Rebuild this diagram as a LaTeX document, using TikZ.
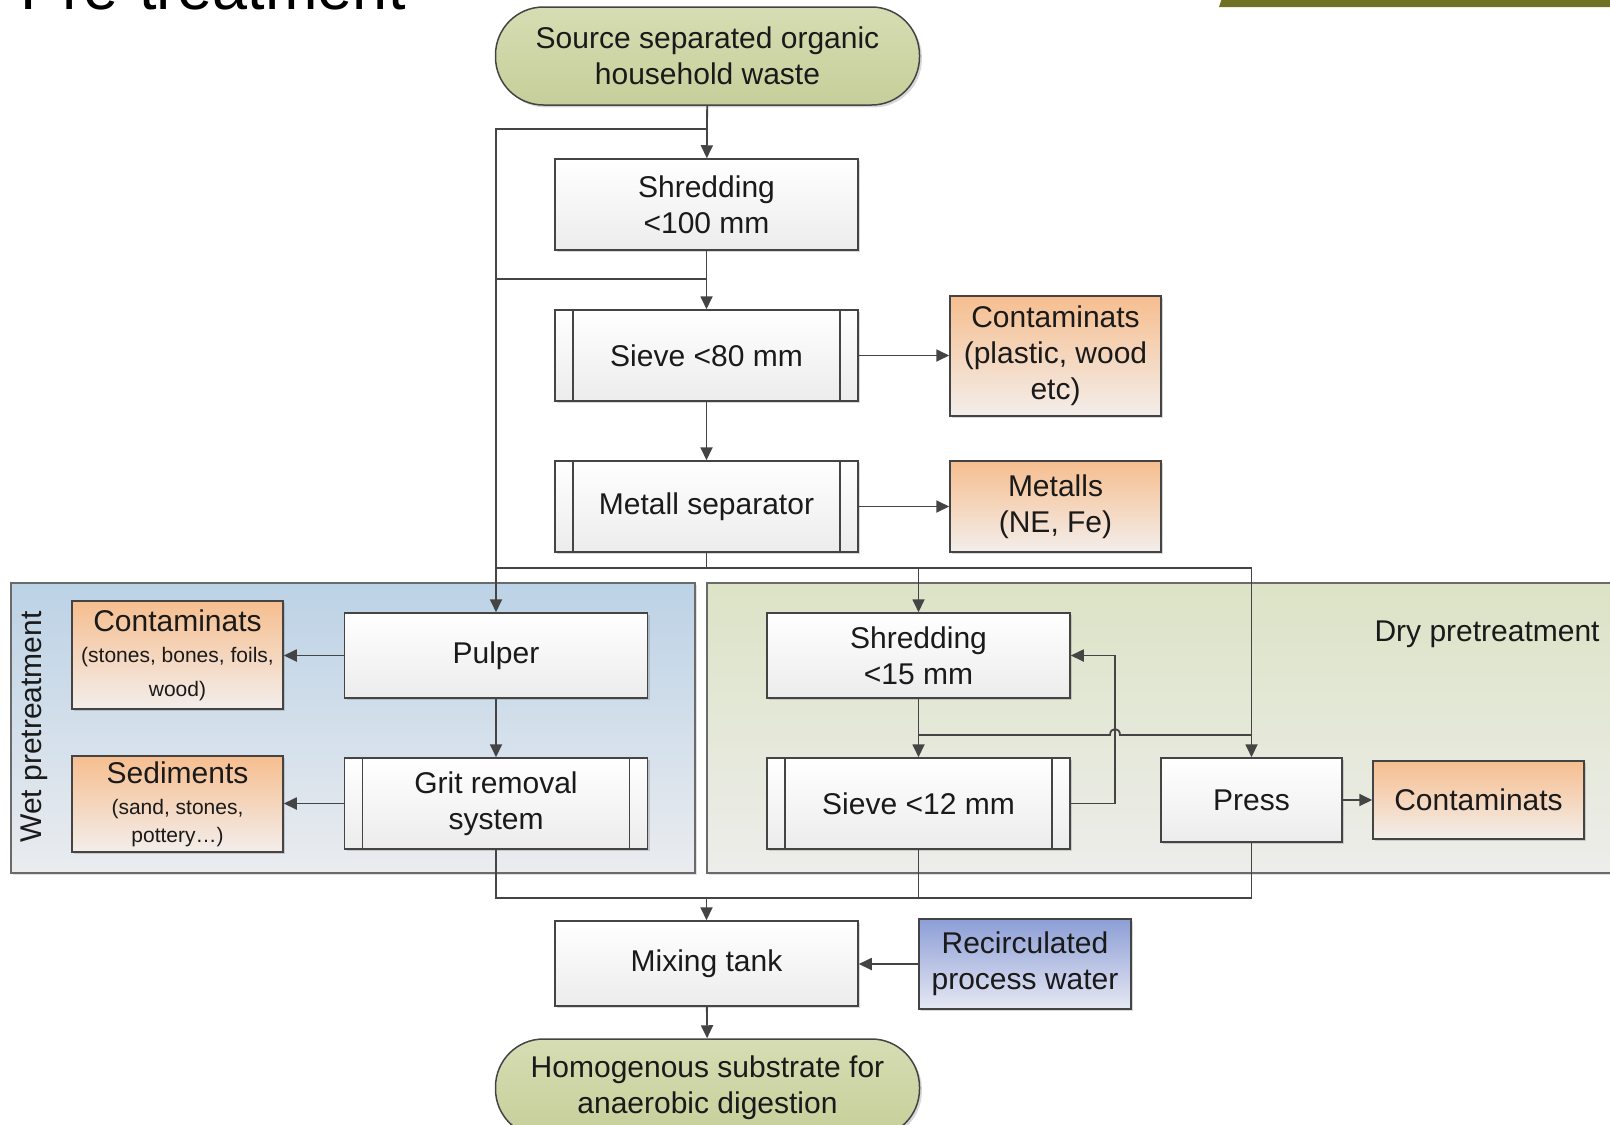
\documentclass[tikz,border=0pt]{standalone}
\usepackage{fontspec}
\setmainfont{Liberation Sans}
\usetikzlibrary{arrows.meta,shadows,calc}
\definecolor{ln}{HTML}{444444}
\definecolor{txt}{HTML}{1A1A1A}
\definecolor{procB}{HTML}{ECECEC}
\definecolor{termT}{HTML}{D6DDB3}
\definecolor{termB}{HTML}{C6CF9A}
\definecolor{oraT}{HTML}{F6BE8F}
\definecolor{oraB}{HTML}{F3EEEB}
\definecolor{bluT}{HTML}{8C9ED6}
\definecolor{bluB}{HTML}{E6E8F3}
\definecolor{wetT}{HTML}{BCD2E6}
\definecolor{wetB}{HTML}{EAECEF}
\definecolor{dryT}{HTML}{DCE3C6}
\definecolor{dryB}{HTML}{EDEDEA}
\definecolor{panelL}{HTML}{6A6A6A}
\definecolor{barc}{HTML}{6F7022}
\tikzset{
  x=0.5pt, y=-0.5pt,
  conn/.style={draw=ln, line width=0.9pt},
  arr/.style={conn, -{Triangle[length=6.5pt,width=6pt]}},
  base/.style={draw=ln, line width=0.75pt, align=center, text=txt,
    font=\fontsize{15}{18}\selectfont, inner sep=2pt,
    drop shadow={shadow xshift=1.2pt, shadow yshift=-1.2pt, opacity=0.25, fill=black!60}},
  proc/.style={base, top color=white, bottom color=procB, minimum width=151.5pt, minimum height=45.5pt},
  dbl/.style={proc, path picture={
    \draw[ln, line width=0.75pt]
      ([xshift=9pt]path picture bounding box.north west) -- ([xshift=9pt]path picture bounding box.south west)
      ([xshift=-9pt]path picture bounding box.north east) -- ([xshift=-9pt]path picture bounding box.south east);}},
  term/.style={base, top color=termT, bottom color=termB, rounded corners=24pt, minimum width=212pt, minimum height=49pt},
  ora/.style={base, top color=oraT, bottom color=oraB, minimum width=105.5pt},
  blu/.style={base, top color=bluT, bottom color=bluB, minimum width=106pt, minimum height=45pt},
  panel/.style={draw=panelL, line width=0.6pt,
    drop shadow={shadow xshift=1pt, shadow yshift=-1pt, opacity=0.2, fill=black!60}},
  lbl/.style={text=txt, font=\fontsize{15}{18}\selectfont, inner sep=0pt},
}
\newcommand{\sm}[1]{{\fontsize{10.5}{13}\selectfont #1}}
\begin{document}
\begin{tikzpicture}
\useasboundingbox (0,0) rectangle (1610,1124);
\fill[white] (0,0) rectangle (1610,1124);

% title (cut off at top) and header bar
\node[anchor=base west, inner sep=0pt, text=black, font=\fontsize{31.5}{36}\selectfont] (title) at (20,10) {Pre-treatment};
\fill[barc] (1222,-2) -- (1612,-2) -- (1612,7) -- (1219,7) -- cycle;

% panels
\node[panel, top color=wetT, bottom color=wetB, minimum width=342pt, minimum height=145pt] (wet) at (353,728) {};
\node[panel, top color=dryT, bottom color=dryB, minimum width=456.5pt, minimum height=145pt] (dry) at (1163.5,728) {};
\node[lbl, rotate=90] (wetlbl) at (34,727) {Wet pretreatment};
\node[lbl, anchor=east] (drylbl) at (1600,634) {Dry pretreatment};

% nodes
\node[term] (src) at (707.5,56) {Source separated organic\\household waste};
\node[proc] (shred100) at (706.5,204.5) {Shredding\\<100 mm};
\node[dbl] (sieve80) at (706.5,355.5) {Sieve <80 mm};
\node[ora, minimum height=60pt] (cont1) at (1055.5,356) {Contaminats\\(plastic, wood\\etc)};
\node[dbl] (metall) at (706.5,506.5) {Metall separator};
\node[ora, minimum height=45.5pt] (metalls) at (1055.5,506.5) {Metalls\\(NE, Fe)};

\node[proc, minimum height=42.5pt] (pulper) at (496,655.5) {Pulper};
\node[ora, minimum height=54pt] (cont2) at (177.5,655) {Contaminats\\[-2.5pt]\sm{(stones, bones, foils,}\\[-1pt]\sm{wood)}};
\node[dbl] (grit) at (496,803.5) {Grit removal\\system};
\node[ora, minimum height=48pt] (sed) at (177.5,804) {Sediments\\[-2.5pt]\sm{(sand, stones,}\\[-4pt]\sm{pottery\dots)}};

\node[proc, minimum height=42.5pt] (shred15) at (918.5,655.5) {Shredding\\<15 mm};
\node[dbl] (sieve12) at (918.5,803.5) {Sieve <12 mm};
\node[proc, minimum width=90.5pt, minimum height=42pt] (press) at (1251.5,800) {Press};
\node[ora, minimum height=39pt] (cont3) at (1478.5,800) {Contaminats};

\node[proc, minimum height=42.5pt] (mix) at (706.5,963.5) {Mixing tank};
\node[blu] (recirc) at (1025,964) {Recirculated\\process water};
\node[term] (homog) at (707.5,1088) {Homogenous substrate for\\anaerobic digestion};

% connectors
\coordinate (lp) at (1115,0);
\draw[arr] (src) -- (shred100);
\draw[arr] (src.south |- 0,129) -| (pulper.north);
\draw[conn] (shred100.south |- 0,279) -- (pulper.north |- 0,279);
\draw[arr] (shred100) -- (sieve80);
\draw[arr] (sieve80) -- (metall);
\draw[arr] (sieve80.east) -- (cont1.west |- sieve80.east);
\draw[arr] (metall) -- (metalls);
\draw[conn] (metall.south) -- (metall.south |- 0,568);
\draw[conn] (pulper.north |- 0,568) -- (press.north |- 0,568);
\draw[arr] (shred15.north |- 0,568) -- (shred15.north);
\draw[arr] (press.north |- 0,568) -- (press.north);

\draw[arr] (pulper.west) -- (cont2.east |- pulper.west);
\draw[arr] (pulper) -- (grit);
\draw[arr] (grit.west) -- (sed.east |- grit.west);

\draw[arr] (shred15) -- (sieve12);
\draw[conn] (shred15.south |- 0,735) -- (1110,735) .. controls (1110,727) and (1120,727) .. (1120,735) -- (press.north |- 0,735);
\draw[arr] (sieve12.east) -| (lp |- shred15.east) -- (shred15.east);
\draw[arr] (press.east) -- (cont3.west |- press.east);

\draw[conn] (grit.south) |- (press.south |- 0,898) -- (press.south);
\draw[conn] (sieve12.south) -- (sieve12.south |- 0,898);
\draw[arr] (mix.north |- 0,898) -- (mix.north);
\draw[arr] (recirc.west) -- (mix.east |- recirc.west);
\draw[arr] (mix) -- (homog);
\end{tikzpicture}
\end{document}
